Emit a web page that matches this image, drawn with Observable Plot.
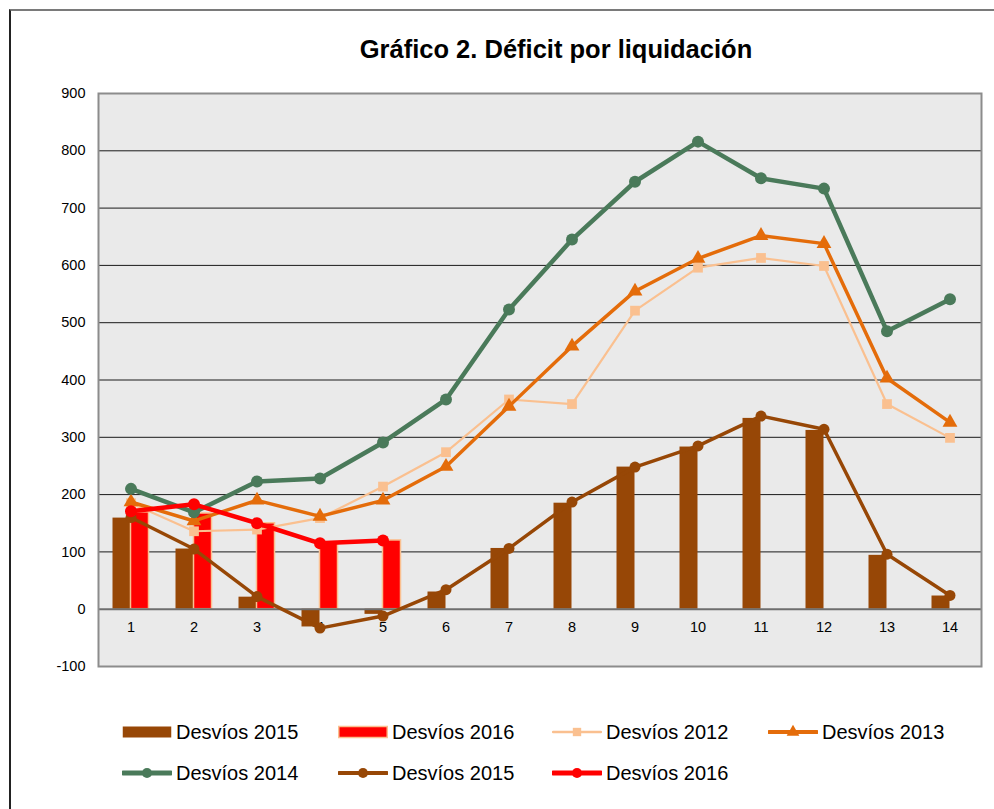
<!DOCTYPE html>
<html>
<head>
<meta charset="utf-8">
<script src="https://cdn.jsdelivr.net/npm/d3@7"></script>
<script src="https://cdn.jsdelivr.net/npm/@observablehq/plot@0.6"></script>
<style>
  html, body { margin: 0; padding: 0; background: #fff; }
  body { font-family: "Liberation Sans", Arial, sans-serif; }
  #wrap { position: relative; width: 994px; height: 809px; overflow: hidden; }
  #border { position: absolute; left: 9px; top: 9px; width: 1100px; height: 900px;
            border-left: 2px solid #222; border-top: 2px solid #7a7a7a; }
  #title { position: absolute; left: 256px; top: 34px; width: 600px; text-align: center;
           font-weight: bold; font-size: 25.5px; line-height: 30px; color: #000; }
  #chart { position: absolute; left: 0; top: 70px; }
  .leg { position: absolute; display: flex; align-items: center; font-size: 20px; color: #000; white-space: nowrap; }
  .leg svg { margin-right: 4px; }
</style>
</head>
<body>
<div id="wrap">
  <div id="border"></div>
  <div id="title">Gráfico 2. Déficit por liquidación</div>
  <div id="chart"></div>
  <div id="legend"></div>
</div>
<script>
const categories = [1, 2, 3, 4, 5, 6, 7, 8, 9, 10, 11, 12, 13, 14];
const yTicks = [-100, 0, 100, 200, 300, 400, 500, 600, 700, 800, 900];

const bars2015 = [159, 105, 21, -31, -9, 30, 106, 185, 248, 283, 333, 312, 94, 23];
const bars2016 = [169, 167, 150, 117, 120];

const desvios2012 = [185, 136, 139, 159, 214, 274, 366, 358, 521, 596, 613, 599, 358, 299];
const desvios2013 = [187, 154, 190, 162, 190, 249, 354, 459, 555, 612, 652, 638, 403, 326];
const desvios2014 = [210, 169, 223, 228, 291, 366, 523, 645, 746, 816, 752, 734, 485, 541];
const desvios2015 = [160, 105, 22, -33, -12, 34, 106, 187, 248, 285, 337, 314, 96, 24];
const desvios2016 = [171, 183, 150, 115, 120];

const C = {
  c2012: "#fac090",
  c2013: "#e46c0a",
  c2014: "#4a7a5a",
  c2015: "#974706",
  c2016: "#ff0000"
};

const toRows = (vals) => vals.map((v, i) => ({x: categories[i], y: v}));

const chart = Plot.plot({
  width: 994,
  height: 620,
  marginLeft: 98,
  marginRight: 13,
  marginTop: 23,
  marginBottom: 24,
  style: {fontFamily: "'Liberation Sans', Arial, sans-serif", fontSize: "14.5px", color: "#000", background: "transparent", overflow: "visible"},
  x: {type: "band", domain: categories, padding: 0, axis: null},
  y: {domain: [-100, 900], axis: null},
  marks: [
    Plot.frame({fill: "#eaeaea"}),
    Plot.ruleY(yTicks.filter(v => v !== 0 && v !== -100), {stroke: "#1a1a1a", strokeWidth: 1}),
    Plot.barY(toRows(bars2015), {x: "x", y: "y", fill: C.c2015, insetLeft: 13.5, insetRight: 31.5}),
    Plot.barY(toRows(bars2016), {x: "x", y: "y", fill: C.c2016, stroke: C.c2012, strokeWidth: 1.5, insetLeft: 31.5, insetRight: 13.5}),
    Plot.ruleY([0], {stroke: "#6e6e6e", strokeWidth: 2}),
    Plot.text(categories, {x: d => d, y: 0, dy: 18, text: d => String(d), fontSize: 14.5, fill: "#000"}),
    Plot.axisY({ticks: yTicks, tickSize: 0, tickPadding: 13, label: null, fontSize: 14.5, tickFormat: d => String(d)}),
    Plot.line(toRows(desvios2012), {x: "x", y: "y", stroke: C.c2012, strokeWidth: 2.2}),
    Plot.dot(toRows(desvios2012), {x: "x", y: "y", fill: C.c2012, symbol: "square", r: 5.5}),
    Plot.line(toRows(desvios2013), {x: "x", y: "y", stroke: C.c2013, strokeWidth: 3.5}),
    Plot.dot(toRows(desvios2013), {x: "x", y: "y", fill: C.c2013, symbol: "triangle", r: 5.5}),
    Plot.line(toRows(desvios2014), {x: "x", y: "y", stroke: C.c2014, strokeWidth: 4.5}),
    Plot.dot(toRows(desvios2014), {x: "x", y: "y", fill: C.c2014, r: 6}),
    Plot.line(toRows(desvios2015), {x: "x", y: "y", stroke: C.c2015, strokeWidth: 3.5}),
    Plot.dot(toRows(desvios2015), {x: "x", y: "y", fill: C.c2015, r: 5.5}),
    Plot.line(toRows(desvios2016), {x: "x", y: "y", stroke: C.c2016, strokeWidth: 4.5}),
    Plot.dot(toRows(desvios2016), {x: "x", y: "y", fill: C.c2016, r: 6}),
    Plot.frame({stroke: "#8c8c8c", strokeWidth: 2})
  ]
});
document.getElementById("chart").appendChild(chart);

// Legend
const legendItems = [
  {label: "Desvíos 2015", kind: "bar", color: C.c2015, left: 122, top: 732},
  {label: "Desvíos 2016", kind: "bar", color: C.c2016, stroke: C.c2012, left: 338, top: 732},
  {label: "Desvíos 2012", kind: "line", color: C.c2012, symbol: "square", sw: 2.5, left: 552, top: 732},
  {label: "Desvíos 2013", kind: "line", color: C.c2013, symbol: "triangle", sw: 4, left: 768, top: 732},
  {label: "Desvíos 2014", kind: "line", color: C.c2014, symbol: "circle", sw: 5, left: 122, top: 773},
  {label: "Desvíos 2015", kind: "line", color: C.c2015, symbol: "circle", sw: 4, left: 338, top: 773},
  {label: "Desvíos 2016", kind: "line", color: C.c2016, symbol: "circle", sw: 5, left: 552, top: 773}
];
const leg = d3.select("#legend");
legendItems.forEach(it => {
  const div = leg.append("div").attr("class", "leg")
    .style("left", it.left + "px").style("top", (it.top - 12) + "px").style("height", "24px");
  const svg = div.append("svg").attr("width", 50).attr("height", 24);
  if (it.kind === "bar") {
    svg.append("rect").attr("x", 0.75).attr("y", 6.5).attr("width", 48.5).attr("height", 11)
      .attr("fill", it.color).attr("stroke", it.stroke || "none").attr("stroke-width", it.stroke ? 1.5 : 0);
  } else {
    svg.append("line").attr("x1", 1).attr("x2", 49).attr("y1", 12).attr("y2", 12)
      .attr("stroke", it.color).attr("stroke-width", it.sw).attr("stroke-linecap", "round");
    const sym = it.symbol === "square" ? d3.symbolSquare : it.symbol === "triangle" ? d3.symbolTriangle : d3.symbolCircle;
    svg.append("path").attr("d", d3.symbol(sym, it.symbol === "circle" ? 80 : 70)())
      .attr("transform", "translate(25,12)").attr("fill", it.color);
  }
  div.append("span").text(it.label);
});
</script>
</body>
</html>
